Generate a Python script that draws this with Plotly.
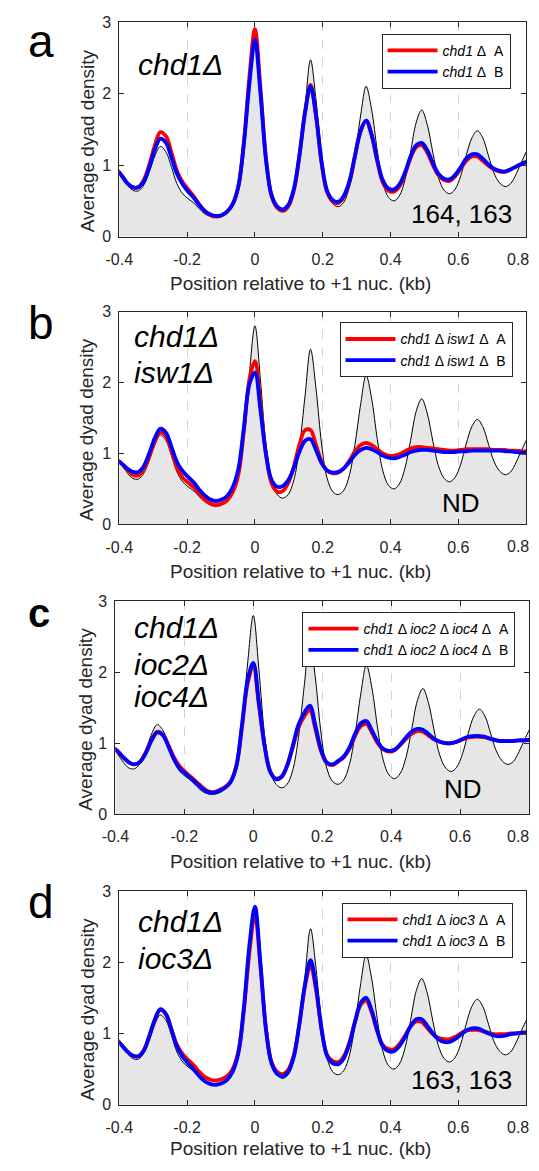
import plotly.graph_objects as go

# ---------------- data ----------------
# sampling positions relative to the +1 nucleosome dyad (bp)
position_bp = [-410, -394, -377, -361, -344, -328, -312, -295, -279, -262, -246, -230, -213,
               -197, -180, -164, -148, -131, -115, -98, -82, -66, -49, -33, -16,
               0, 16, 33, 49, 66, 82, 98, 115, 131, 148, 164, 180, 197, 213, 230, 246,
               262, 279, 295, 312, 328, 344, 361, 377, 394, 410, 426, 443, 459, 476, 492,
               508, 525, 541, 558, 574, 590, 607, 623, 640, 656, 672, 689, 705, 722, 738,
               754, 771, 787, 804]
position_kb = [p / 1000.0 for p in position_bp]

# wild-type reference (grey filled profile, same in all panels)
wild_type = [0.96, 0.85, 0.73, 0.65, 0.64, 0.72, 0.90, 1.13, 1.26, 1.18, 0.97, 0.74, 0.60,
             0.53, 0.47, 0.39, 0.32, 0.285, 0.28, 0.30, 0.35, 0.45, 0.68, 1.25, 2.15,
             2.80, 2.05, 1.10, 0.60, 0.42, 0.37, 0.42, 0.63, 1.08, 1.82, 2.47, 1.92, 1.12,
             0.65, 0.46, 0.42, 0.48, 0.70, 1.12, 1.70, 2.10, 1.78, 1.20, 0.76, 0.55,
             0.50, 0.57, 0.80, 1.18, 1.60, 1.77, 1.57, 1.17, 0.83, 0.65, 0.60, 0.66, 0.85,
             1.13, 1.38, 1.48, 1.38, 1.13, 0.89, 0.75, 0.70, 0.74, 0.88, 1.05, 1.22]

chd1_A = [0.95, 0.86, 0.75, 0.69, 0.69, 0.79, 1.00, 1.28, 1.46, 1.40, 1.17, 0.92, 0.76,
          0.66, 0.56, 0.45, 0.36, 0.30, 0.28, 0.30, 0.35, 0.45, 0.70, 1.30, 2.25,
          2.90, 2.10, 1.08, 0.57, 0.40, 0.36, 0.42, 0.65, 1.12, 1.75, 2.12, 1.70, 1.02,
          0.62, 0.49, 0.47, 0.55, 0.76, 1.12, 1.48, 1.62, 1.42, 1.05, 0.76, 0.64,
          0.63, 0.70, 0.88, 1.10, 1.25, 1.28, 1.18, 1.00, 0.86, 0.79, 0.78, 0.84, 0.95,
          1.06, 1.12, 1.12, 1.06, 0.99, 0.94, 0.91, 0.91, 0.94, 0.98, 1.02, 1.05]
chd1_B = [0.95, 0.86, 0.75, 0.69, 0.69, 0.77, 0.96, 1.22, 1.37, 1.31, 1.10, 0.88, 0.73,
          0.63, 0.54, 0.44, 0.36, 0.31, 0.29, 0.30, 0.35, 0.45, 0.70, 1.28, 2.15,
          2.75, 2.02, 1.06, 0.58, 0.42, 0.38, 0.44, 0.67, 1.13, 1.74, 2.10, 1.70, 1.03,
          0.64, 0.51, 0.49, 0.57, 0.78, 1.13, 1.48, 1.62, 1.43, 1.07, 0.79, 0.67,
          0.66, 0.73, 0.90, 1.12, 1.28, 1.31, 1.21, 1.03, 0.88, 0.81, 0.80, 0.86, 0.97,
          1.09, 1.15, 1.15, 1.09, 1.01, 0.95, 0.92, 0.91, 0.94, 0.98, 1.02, 1.05]

isw1_A = [0.92, 0.86, 0.77, 0.70, 0.69, 0.77, 0.95, 1.17, 1.30, 1.24, 1.03, 0.80, 0.66,
          0.59, 0.52, 0.43, 0.35, 0.29, 0.27, 0.29, 0.34, 0.45, 0.70, 1.30, 2.05,
          2.30, 1.70, 0.98, 0.58, 0.46, 0.47, 0.58, 0.82, 1.12, 1.33, 1.33, 1.12, 0.88,
          0.76, 0.72, 0.73, 0.79, 0.90, 1.03, 1.12, 1.15, 1.12, 1.06, 1.00, 0.97,
          0.97, 0.99, 1.03, 1.07, 1.09, 1.09, 1.08, 1.07, 1.06, 1.05, 1.04, 1.04, 1.05,
          1.06, 1.06, 1.06, 1.06, 1.06, 1.05, 1.05, 1.05, 1.04, 1.04, 1.03, 1.03]
isw1_B = [0.92, 0.86, 0.79, 0.74, 0.74, 0.82, 1.00, 1.22, 1.35, 1.29, 1.09, 0.88, 0.75,
          0.67, 0.59, 0.49, 0.41, 0.35, 0.33, 0.35, 0.40, 0.52, 0.78, 1.35, 1.98,
          2.14, 1.62, 0.98, 0.63, 0.53, 0.54, 0.62, 0.80, 1.02, 1.18, 1.20, 1.05, 0.86,
          0.76, 0.73, 0.74, 0.79, 0.88, 0.98, 1.05, 1.08, 1.06, 1.02, 0.97, 0.94,
          0.93, 0.95, 0.98, 1.02, 1.04, 1.05, 1.05, 1.04, 1.03, 1.02, 1.02, 1.02, 1.03,
          1.03, 1.04, 1.04, 1.04, 1.04, 1.04, 1.04, 1.03, 1.03, 1.02, 1.01, 1.01]

ioc24_A = [0.95, 0.88, 0.80, 0.73, 0.70, 0.74, 0.87, 1.05, 1.16, 1.12, 0.97, 0.80, 0.67,
           0.59, 0.52, 0.45, 0.38, 0.32, 0.31, 0.34, 0.38, 0.46, 0.68, 1.22, 1.85,
           2.08, 1.55, 0.95, 0.60, 0.50, 0.53, 0.68, 0.95, 1.22, 1.38, 1.47, 1.20, 0.88,
           0.72, 0.69, 0.74, 0.80, 0.92, 1.10, 1.24, 1.27, 1.15, 1.00, 0.91, 0.88,
           0.90, 0.97, 1.06, 1.13, 1.17, 1.16, 1.11, 1.05, 1.02, 1.00, 1.00, 1.02, 1.05,
           1.08, 1.09, 1.09, 1.08, 1.06, 1.04, 1.03, 1.03, 1.03, 1.04, 1.04, 1.05]
ioc24_B = [0.95, 0.89, 0.80, 0.73, 0.70, 0.74, 0.86, 1.04, 1.15, 1.11, 0.95, 0.77, 0.64,
           0.57, 0.50, 0.43, 0.36, 0.31, 0.30, 0.33, 0.37, 0.45, 0.68, 1.25, 1.90,
           2.13, 1.58, 0.96, 0.60, 0.49, 0.52, 0.68, 0.97, 1.26, 1.43, 1.53, 1.25, 0.90,
           0.73, 0.70, 0.75, 0.81, 0.94, 1.13, 1.28, 1.31, 1.18, 1.02, 0.92, 0.89,
           0.91, 0.98, 1.08, 1.16, 1.20, 1.19, 1.13, 1.06, 1.02, 1.00, 1.00, 1.02, 1.06,
           1.09, 1.10, 1.10, 1.09, 1.06, 1.04, 1.03, 1.03, 1.03, 1.04, 1.04, 1.05]

ioc3_A = [0.93, 0.84, 0.75, 0.69, 0.68, 0.76, 0.95, 1.19, 1.33, 1.26, 1.05, 0.84, 0.71,
          0.63, 0.55, 0.46, 0.39, 0.35, 0.34, 0.36, 0.40, 0.50, 0.74, 1.30, 2.15,
          2.68, 1.95, 1.05, 0.60, 0.46, 0.43, 0.49, 0.70, 1.13, 1.67, 1.96, 1.62, 1.04,
          0.70, 0.61, 0.60, 0.68, 0.88, 1.16, 1.40, 1.46, 1.30, 1.03, 0.84, 0.78,
          0.78, 0.85, 0.97, 1.10, 1.17, 1.16, 1.08, 0.99, 0.94, 0.92, 0.92, 0.95, 1.00,
          1.04, 1.05, 1.05, 1.03, 1.01, 0.99, 0.99, 0.99, 1.00, 1.00, 1.01, 1.01]
ioc3_B = [0.93, 0.84, 0.75, 0.69, 0.68, 0.76, 0.96, 1.20, 1.34, 1.27, 1.05, 0.82, 0.67,
          0.58, 0.49, 0.40, 0.33, 0.29, 0.28, 0.30, 0.35, 0.46, 0.72, 1.35, 2.25,
          2.78, 2.00, 1.04, 0.58, 0.43, 0.40, 0.46, 0.68, 1.13, 1.70, 2.03, 1.66, 1.05,
          0.68, 0.58, 0.57, 0.65, 0.86, 1.16, 1.43, 1.50, 1.33, 1.04, 0.82, 0.75,
          0.75, 0.82, 0.95, 1.10, 1.20, 1.20, 1.11, 1.00, 0.92, 0.88, 0.88, 0.92, 0.98,
          1.04, 1.07, 1.07, 1.04, 1.00, 0.97, 0.96, 0.97, 0.99, 1.00, 1.01, 1.01]

x_tick_vals = [-0.4, -0.2, 0, 0.2, 0.4, 0.6, 0.8]
x_tick_text = ["-0.4", "-0.2", "0", "0.2", "0.4", "0.6", "0.8"]
y_tick_vals = [0, 1, 2, 3]

panel_letters = ["a", "b", "c", "d"]
genotype_lines = [["chd1Δ"], ["chd1Δ", "isw1Δ"], ["chd1Δ", "ioc2Δ", "ioc4Δ"], ["chd1Δ", "ioc3Δ"]]
legend_A = ["<i>chd1</i> Δ&nbsp; A",
            "<i>chd1</i> Δ <i>isw1</i> Δ&nbsp; A",
            "<i>chd1</i> Δ <i>ioc2</i> Δ <i>ioc4</i> Δ&nbsp; A",
            "<i>chd1</i> Δ <i>ioc3</i> Δ&nbsp; A"]
legend_B = [s.replace("&nbsp; A", "&nbsp; B") for s in legend_A]
corner_labels = ["164, 163", "ND", "ND", "163, 163"]
series_A = [chd1_A, isw1_A, ioc24_A, ioc3_A]
series_B = [chd1_B, isw1_B, ioc24_B, ioc3_B]

# ---------------- layout geometry (window pixels) ----------------
W, H = 539, 1171          # browser window
PAGE_MARGIN = 8           # default body margin of the page
FW, FH = W - 2 * PAGE_MARGIN, H - 2 * PAGE_MARGIN
FONT = "Liberation Sans, Arial, Helvetica, sans-serif"
AX = "#262626"

geom = [
    dict(x0=108, x1=526, top=14, bottom=232, leg=(510, 26), letter=(12, 33, 46, False),
         geno_x=125, geno_y=[57], corner=(514, 209), ytit_x=75, xtit_y=280),
    dict(x0=108, x1=526, top=308, bottom=524, leg=(512, 319), letter=(12, 320, 46, False),
         geno_x=121, geno_y=[333, 370], corner=(481, 502), ytit_x=75, xtit_y=572),
    dict(x0=104, x1=529, top=602, bottom=818, leg=(515, 613), letter=(12, 614, 40, True),
         geno_x=121, geno_y=[629, 666, 699], corner=(483, 793), ytit_x=73, xtit_y=866),
    dict(x0=108, x1=526, top=896, bottom=1113, leg=(512, 908), letter=(12, 907, 46, False),
         geno_x=125, geno_y=[927, 965], corner=(514, 1088), ytit_x=75, xtit_y=1157),
]


def fx(p):
    return (p - PAGE_MARGIN) / FW


def fy(p):
    return 1 - (p - PAGE_MARGIN) / FH


fig = go.Figure()
layout = dict(width=FW, height=FH, margin=dict(l=0, r=0, t=0, b=0),
              paper_bgcolor="white", plot_bgcolor="white", showlegend=True)
annotations = []

for k in range(4):
    g = geom[k]
    n = "" if k == 0 else str(k + 1)
    xa, ya = "x" + n, "y" + n
    leg = "legend" + n

    fig.add_trace(go.Scatter(x=position_kb, y=wild_type, mode="lines",
                             line=dict(color="black", width=1, shape="spline", smoothing=1.0),
                             fill="tozeroy", fillcolor="#e6e6e6", xaxis=xa, yaxis=ya,
                             showlegend=False, hoverinfo="skip"))
    fig.add_trace(go.Scatter(x=position_kb, y=series_A[k], mode="lines", name=legend_A[k],
                             line=dict(color="#ff0000", width=3.8, shape="spline", smoothing=1.0),
                             xaxis=xa, yaxis=ya, legend=leg))
    fig.add_trace(go.Scatter(x=position_kb, y=series_B[k], mode="lines", name=legend_B[k],
                             line=dict(color="#0000ff", width=3.8, shape="spline", smoothing=1.0),
                             xaxis=xa, yaxis=ya, legend=leg))

    common = dict(showline=True, linecolor=AX, linewidth=1, mirror="ticks", ticks="inside",
                  ticklen=5, tickwidth=1, tickcolor=AX, zeroline=False,
                  tickfont=dict(family=FONT, size=16, color=AX))
    # the last tick label sits at the page edge; it is drawn as an annotation so it is not cut
    layout["xaxis" + n] = dict(domain=[fx(g["x0"]), fx(g["x1"])], range=[-0.4, 0.8],
                               tickvals=x_tick_vals, ticktext=x_tick_text[:-1] + [""],
                               showgrid=True, gridcolor="#d2d2d2", griddash="dash", gridwidth=1,
                               anchor=ya, ticklabelstandoff=8, **common)
    layout["yaxis" + n] = dict(domain=[fy(g["bottom"]), fy(g["top"])], range=[0, 3],
                               tickvals=y_tick_vals, showgrid=False, anchor=xa,
                               ticklabelstandoff=4, **common)
    annotations.append(dict(text=x_tick_text[-1], x=1.0, xref="paper", xanchor="right",
                            y=0, yref=ya + " domain", yanchor="top", yshift=-12,
                            showarrow=False, font=dict(family=FONT, size=16, color=AX)))
    lx, ly = g["leg"]
    layout[leg] = dict(x=fx(lx), y=fy(ly), xanchor="right", yanchor="top", bgcolor="white",
                       bordercolor=AX, borderwidth=1, itemwidth=50,
                       font=dict(family=FONT, size=14, color="black"))

    # panel letter
    lxp, lyp, lsize, lbold = g["letter"]
    txt = "<b>%s</b>" % panel_letters[k] if lbold else panel_letters[k]
    annotations.append(dict(text=txt, x=fx(lxp), y=fy(lyp), xref="paper", yref="paper",
                            xanchor="left", yanchor="middle", showarrow=False,
                            font=dict(family=FONT, size=lsize, color="black")))
    # genotype label
    for line, gy in zip(genotype_lines[k], g["geno_y"]):
        annotations.append(dict(text="<i>%s</i>" % line, x=fx(g["geno_x"]), y=fy(gy),
                                xref="paper", yref="paper", xanchor="left", yanchor="middle",
                                showarrow=False, font=dict(family=FONT, size=30, color="black")))
    # corner label
    cx, cy = g["corner"]
    annotations.append(dict(text=corner_labels[k], x=fx(cx), y=fy(cy), xref="paper",
                            yref="paper", xanchor="right", yanchor="middle", showarrow=False,
                            font=dict(family=FONT, size=26, color="black")))
    # axis titles
    annotations.append(dict(text="Position relative to +1 nuc. (kb)", x=fx(294),
                            y=fy(g["xtit_y"]), xref="paper", yref="paper",
                            xanchor="center", yanchor="middle", showarrow=False,
                            font=dict(family=FONT, size=19, color=AX)))
    annotations.append(dict(text="Average dyad density", x=fx(g["ytit_x"]),
                            y=fy((g["top"] + g["bottom"]) / 2 + 12), xref="paper",
                            yref="paper", xanchor="center", yanchor="middle", textangle=-90,
                            showarrow=False, font=dict(family=FONT, size=19, color=AX)))

layout["annotations"] = annotations
fig.update_layout(**layout)

fig.write_html("out.html", config={"displayModeBar": False})
